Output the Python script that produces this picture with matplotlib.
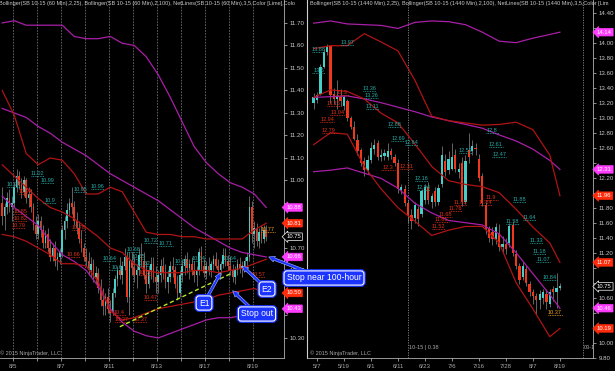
import matplotlib
matplotlib.use('Agg')
import matplotlib.pyplot as plt
import matplotlib.patheffects as pe
from matplotlib.patches import Rectangle

plt.rcParams['font.family'] = ['Liberation Sans', 'DejaVu Sans']

# ---------------- SB 10-15, 60 minute bars (8/4 .. 8/19) ----------------
h_open = [10.90, 10.84, 10.88, 10.92, 10.88, 10.90, 10.97, 11.02, 10.98, 10.95,
          11.00, 10.92, 10.94, 10.88, 10.80, 10.76, 10.82, 10.78, 10.72, 10.76,
          10.70, 10.66, 10.70, 10.64, 10.66, 10.68, 10.78, 10.82, 10.87, 10.90,
          10.88, 10.82, 10.79, 10.74, 10.70, 10.66, 10.64, 10.60, 10.63, 10.57,
          10.59, 10.52, 10.47, 10.44, 10.48, 10.43, 10.41, 10.50, 10.56, 10.60,
          10.58, 10.62, 10.66, 10.48, 10.64, 10.61, 10.58, 10.60, 10.67, 10.64,
          10.58, 10.54, 10.60, 10.63, 10.57, 10.55, 10.58, 10.62, 10.59, 10.55,
          10.57, 10.62, 10.60, 10.54, 10.50, 10.58, 10.62, 10.65, 10.61, 10.63,
          10.60, 10.58, 10.60, 10.68, 10.62, 10.59, 10.62, 10.60, 10.63, 10.65,
          10.62, 10.60, 10.63, 10.67, 10.64, 10.62, 10.60, 10.57, 10.60, 10.63,
          10.61, 10.62, 10.64, 10.66, 10.88, 10.76, 10.79, 10.73, 10.77, 10.74,
          10.78]
h_high = [10.97, 10.90, 10.95, 10.96, 10.93, 10.99, 11.05, 11.04, 11.01, 11.02,
          11.01, 10.97, 10.96, 10.90, 10.84, 10.85, 10.84, 10.80, 10.78, 10.79,
          10.74, 10.72, 10.73, 10.68, 10.70, 10.80, 10.84, 10.90, 10.92, 10.97,
          10.91, 10.86, 10.82, 10.78, 10.72, 10.70, 10.68, 10.66, 10.65, 10.62,
          10.61, 10.56, 10.52, 10.50, 10.52, 10.47, 10.52, 10.58, 10.62, 10.66,
          10.64, 10.70, 10.68, 10.68, 10.68, 10.66, 10.63, 10.70, 10.72, 10.68,
          10.64, 10.62, 10.66, 10.66, 10.62, 10.60, 10.65, 10.66, 10.63, 10.60,
          10.64, 10.66, 10.62, 10.58, 10.60, 10.64, 10.67, 10.68, 10.65, 10.66,
          10.64, 10.62, 10.70, 10.71, 10.65, 10.64, 10.66, 10.64, 10.67, 10.68,
          10.65, 10.64, 10.70, 10.70, 10.67, 10.66, 10.63, 10.62, 10.65, 10.66,
          10.64, 10.66, 10.68, 10.93, 10.91, 10.82, 10.81, 10.79, 10.80, 10.80,
          10.80]
h_low = [10.80, 10.78, 10.85, 10.86, 10.82, 10.88, 10.95, 10.96, 10.92, 10.93,
         10.90, 10.88, 10.86, 10.78, 10.74, 10.74, 10.75, 10.70, 10.70, 10.68,
         10.64, 10.64, 10.62, 10.60, 10.63, 10.66, 10.74, 10.79, 10.84, 10.85,
         10.80, 10.76, 10.72, 10.68, 10.64, 10.62, 10.58, 10.57, 10.55, 10.54,
         10.50, 10.44, 10.40, 10.40, 10.41, 10.37, 10.40, 10.48, 10.53, 10.56,
         10.54, 10.60, 10.46, 10.40, 10.58, 10.55, 10.52, 10.58, 10.62, 10.56,
         10.50, 10.52, 10.56, 10.55, 10.50, 10.50, 10.55, 10.56, 10.52, 10.50,
         10.55, 10.57, 10.52, 10.47, 10.48, 10.55, 10.58, 10.59, 10.56, 10.58,
         10.55, 10.53, 10.58, 10.60, 10.57, 10.56, 10.58, 10.57, 10.60, 10.61,
         10.58, 10.58, 10.61, 10.62, 10.60, 10.58, 10.55, 10.54, 10.58, 10.59,
         10.57, 10.60, 10.60, 10.64, 10.72, 10.70, 10.71, 10.70, 10.72, 10.72,
         10.73]
h_close = [10.84, 10.88, 10.92, 10.88, 10.90, 10.97, 11.02, 10.98, 10.95, 11.00,
           10.92, 10.94, 10.88, 10.80, 10.76, 10.82, 10.78, 10.72, 10.76, 10.70,
           10.66, 10.70, 10.64, 10.66, 10.68, 10.78, 10.82, 10.87, 10.90, 10.88,
           10.82, 10.79, 10.74, 10.70, 10.66, 10.64, 10.60, 10.63, 10.57, 10.59,
           10.52, 10.47, 10.44, 10.48, 10.43, 10.41, 10.50, 10.56, 10.60, 10.58,
           10.62, 10.66, 10.48, 10.64, 10.61, 10.58, 10.60, 10.67, 10.64, 10.58,
           10.54, 10.60, 10.63, 10.57, 10.55, 10.58, 10.62, 10.59, 10.55, 10.57,
           10.62, 10.60, 10.54, 10.50, 10.58, 10.62, 10.65, 10.61, 10.63, 10.60,
           10.58, 10.60, 10.68, 10.62, 10.59, 10.62, 10.60, 10.63, 10.65, 10.62,
           10.60, 10.63, 10.67, 10.64, 10.62, 10.60, 10.57, 10.60, 10.63, 10.61,
           10.62, 10.64, 10.66, 10.88, 10.76, 10.79, 10.73, 10.77, 10.74, 10.78,
           10.75]

# first bar of each session and its date
h_session_bar = [5, 15, 25, 35, 45, 55, 65, 75, 85, 95, 105]
h_session_day = ['8/5', '8/6', '8/7', '8/10', '8/11', '8/12', '8/13', '8/14', '8/17', '8/18', '8/19']

# Bollinger bands sampled every 5 bars
h_band_bar = [0, 5, 10, 15, 20, 25, 30, 35, 40, 45, 50, 55, 60, 65, 70, 75, 80, 85, 90, 95, 100, 105, 110]
h_bb100_up = [11.70, 11.71, 11.69, 11.69, 11.69, 11.69, 11.64, 11.63, 11.63, 11.64, 11.61, 11.60,
              11.55, 11.47, 11.37, 11.26, 11.15, 11.08, 11.03, 10.99, 10.97, 10.94, 10.88]
h_bb100_mid = [11.32, 11.30, 11.28, 11.24, 11.21, 11.17, 11.14, 11.11, 11.07, 11.03, 11.00, 10.97,
               10.94, 10.91, 10.87, 10.83, 10.79, 10.76, 10.73, 10.70, 10.68, 10.67, 10.66]
h_bb100_low = [10.93, 10.88, 10.84, 10.80, 10.73, 10.67, 10.64, 10.60, 10.53, 10.43, 10.37, 10.33,
               10.31, 10.30, 10.32, 10.34, 10.36, 10.38, 10.39, 10.39, 10.40, 10.41, 10.43]
h_bb25_up = [11.40, 11.29, 11.12, 11.07, 11.10, 11.09, 11.03, 10.94, 10.94, 10.97, 10.95, 10.86,
             10.77, 10.76, 10.76, 10.75, 10.75, 10.74, 10.74, 10.74, 10.74, 10.78, 10.81]
h_bb25_mid = [11.07, 11.02, 10.97, 10.92, 10.88, 10.86, 10.83, 10.79, 10.75, 10.70, 10.68, 10.63,
              10.60, 10.59, 10.59, 10.59, 10.60, 10.60, 10.59, 10.60, 10.61, 10.63, 10.65]
h_bb25_low = [10.76, 10.75, 10.73, 10.70, 10.67, 10.63, 10.63, 10.62, 10.55, 10.42, 10.38, 10.39,
              10.41, 10.43, 10.44, 10.45, 10.46, 10.47, 10.49, 10.50, 10.51, 10.52, 10.50]

# drawn trend line
h_trend_bar = [49, 96]
h_trend_px = [10.35, 10.59]

# NetLines price labels
h_lbl_bar = [2, 12, 16, 7, 5, 17, 5, 4, 30, 37, 29, 27, 42, 45, 54, 56, 57, 59, 46, 47, 55,
             72, 79, 92, 104, 59, 65.5, 52, 108]
h_lbl_text = ['10.97', '11.02', '10.99', '10.94', '10.85', '10.9', '10.82', '10.79', '10.95', '10.96',
              '10.78', '10.66', '10.64', '10.6', '10.65', '10.62', '10.58', '10.47', '10.4', '10.37',
              '10.37', '10.63', '10.64', '10.64', '10.57', '10.72', '10.71', '10.68', '10.77']
h_lbl_kind = ['u', 'u', 'u', 'd', 'd', 'u', 'd', 'd', 'u', 'u', 'd', 'd', 'u', 'u', 'u', 'u', 'd', 'd',
              'd', 'd', 'd', 'u', 'u', 'u', 'd', 'u', 'u', 'u', 'o']

h_tag_px = [10.88, 10.81, 10.75, 10.66, 10.50, 10.43]
h_tag_kind = ['m', 'r', 'k', 'm', 'r', 'm']

# ---------------- SB 10-15, daily bars (5/6 .. 8/19) ----------------
d_open = [13.19, 13.24, 13.32, 13.68, 13.87, 13.96, 13.32, 13.25, 13.28, 13.16,
          13.22, 13.00, 12.88, 12.70, 12.57, 12.42, 12.30, 12.44, 12.58, 12.66,
          12.48, 12.49, 12.47, 12.55, 12.48, 12.40, 12.04, 12.05, 11.86, 11.70,
          11.66, 11.78, 11.72, 11.90, 12.07, 11.88, 12.02, 11.88, 12.12, 12.42,
          12.30, 12.32, 12.50, 12.28, 12.40, 11.88, 12.57, 12.56, 12.60, 12.45,
          12.22, 11.84, 11.52, 11.48, 11.38, 11.46, 11.28, 11.32, 11.33, 11.57,
          11.18, 11.02, 10.88, 10.98, 10.78, 10.68, 10.62, 10.57, 10.60, 10.65,
          10.52, 10.72, 10.68, 10.73]
d_high = [13.33, 13.34, 13.72, 13.92, 13.98, 13.97, 13.40, 13.50, 13.38, 13.30,
          13.25, 13.02, 12.95, 12.78, 12.60, 12.48, 12.50, 12.68, 12.72, 12.70,
          12.58, 12.58, 12.66, 12.60, 12.52, 12.45, 12.12, 12.10, 11.90, 11.78,
          11.88, 11.82, 12.05, 12.12, 12.14, 12.00, 12.08, 12.12, 12.62, 12.52,
          12.55, 12.66, 12.58, 12.40, 12.48, 12.50, 12.80, 12.70, 12.66, 12.52,
          12.26, 11.88, 11.56, 11.54, 11.60, 11.58, 11.42, 11.40, 11.60, 11.62,
          11.24, 11.06, 11.08, 11.02, 10.82, 10.72, 10.66, 10.70, 10.72, 10.72,
          10.72, 10.76, 10.93, 10.80]
d_low = [13.12, 13.20, 13.30, 13.66, 13.84, 13.20, 13.18, 13.12, 13.15, 13.10,
         12.96, 12.85, 12.70, 12.50, 12.35, 12.22, 12.25, 12.40, 12.52, 12.44,
         12.42, 12.44, 12.43, 12.45, 12.36, 12.00, 11.98, 11.82, 11.60, 11.52,
         11.60, 11.55, 11.68, 11.85, 11.85, 11.80, 11.82, 11.84, 12.08, 12.22,
         12.25, 12.30, 12.28, 12.20, 11.82, 11.85, 12.40, 12.50, 12.50, 12.15,
         11.82, 11.45, 11.34, 11.30, 11.32, 11.22, 11.20, 11.18, 11.28, 11.15,
         10.98, 10.78, 10.84, 10.75, 10.62, 10.52, 10.38, 10.45, 10.52, 10.45,
         10.48, 10.55, 10.46, 10.70]
d_close = [13.27, 13.30, 13.68, 13.88, 13.96, 13.30, 13.25, 13.28, 13.22, 13.27,
           13.00, 12.88, 12.72, 12.55, 12.40, 12.30, 12.44, 12.59, 12.63, 12.48,
           12.50, 12.53, 12.55, 12.50, 12.40, 12.05, 12.07, 11.86, 11.70, 11.62,
           11.83, 11.65, 12.02, 12.07, 11.90, 11.96, 11.88, 12.06, 12.50, 12.28,
           12.45, 12.48, 12.32, 12.32, 11.88, 12.42, 12.48, 12.62, 12.58, 12.20,
           11.86, 11.52, 11.40, 11.38, 11.54, 11.28, 11.32, 11.25, 11.55, 11.20,
           11.02, 10.84, 11.02, 10.80, 10.68, 10.62, 10.57, 10.65, 10.67, 10.54,
           10.68, 10.68, 10.73, 10.75]

d_tick_bar = [1, 9, 17, 25, 33, 41, 49, 57, 65, 73]
d_tick_day = ['5/7', '5/19', '6/1', '6/11', '6/23', '7/6', '7/16', '7/28', '8/7', '8/19']

d_band_bar = [0, 5, 10, 15, 20, 25, 30, 35, 40, 45, 50, 55, 60, 65, 70, 73]
d_bb100_up = [14.26, 14.29, 14.25, 14.24, 14.23, 14.19, 14.27, 14.29, 14.28, 14.24, 14.14, 14.02,
              14.00, 14.06, 14.11, 14.14]
d_bb100_mid = [13.27, 13.28, 13.29, 13.25, 13.20, 13.14, 13.08, 13.01, 12.96, 12.91, 12.86, 12.77,
               12.69, 12.58, 12.43, 12.31]
d_bb100_low = [12.28, 12.30, 12.33, 12.26, 12.19, 12.06, 11.86, 11.73, 11.63, 11.60, 11.57, 11.45,
               11.20, 10.92, 10.64, 10.46]
d_bb25_up = [13.92, 13.96, 13.96, 14.12, 14.01, 13.89, 13.50, 13.02, 12.96, 12.93, 12.90, 12.91,
             12.94, 12.84, 12.50, 11.96]
d_bb25_mid = [13.27, 13.37, 13.35, 13.25, 13.06, 12.93, 12.65, 12.35, 12.16, 12.11, 12.08, 12.00,
              11.78, 11.54, 11.33, 11.07]
d_bb25_low = [12.64, 12.80, 12.78, 12.35, 12.05, 11.80, 11.62, 11.43, 11.50, 11.55, 11.55, 11.33,
              10.80, 10.45, 10.08, 10.19]

d_lbl_bar = [8, -0.5, -0.5, 14.5, 15, 15.5, 6.5, 4, 5, 2, 2.5, 22, 23, 27, 20, 25.5, 30, 30.5,
             41.5, 40, 37, 36, 35, 43, 51, 52, 53, 50.5, 49, 59, 62, 57, 64, 65, 66, 68, 69.5]
d_lbl_text = ['13.97', '13.88', '13.6', '13.36', '13.26', '13.11', '13.3', '13.15', '13.04', '12.94',
              '12.79', '12.88', '12.69', '12.64', '12.3', '12.31', '12.16', '12.04', '11.83', '11.76',
              '11.68', '11.61', '11.52', '12.53', '12.8', '12.61', '12.47', '11.9', '11.84', '11.88',
              '11.64', '11.58', '11.33', '11.18', '11.07', '10.84', '10.37']
d_lbl_kind = ['u', 'u', 'u', 'u', 'u', 'u', 'd', 'd', 'd', 'd', 'd', 'u', 'u', 'u', 'd', 'd', 'u', 'u',
              'd', 'd', 'd', 'd', 'd', 'u', 'u', 'u', 'u', 'd', 'd', 'u', 'u', 'u', 'u', 'u', 'u', 'u', 'o']

d_tag_px = [14.14, 12.31, 11.96, 11.07, 10.75, 10.46, 10.19]
d_tag_kind = ['m', 'm', 'r', 'r', 'k', 'm', 'r']

# ---------------- styling ----------------
UP = '#45cfc8'
DN = '#f0381c'
WICK = '#8a8a8a'
RED_BB = '#b01414'
MAG_BB = '#a81fa8'
LBL = {'u': '#27aaa6', 'd': '#e0301a', 'o': '#f0a020'}
TAG = {'m': '#ff3cff', 'r': '#ff2c0c', 'k': '#000000'}
GRAY = '#c8c8c8'

W, H = 615, 371
fig = plt.figure(figsize=(W / 100, H / 100), dpi=100, facecolor='black')
axL = fig.add_axes([0, 13 / H, 284 / W, 358 / H])
axR = fig.add_axes([307 / W, 13 / H, 286 / W, 358 / H])
axL.set_zorder(2)
axR.set_zorder(1)


def draw_candles(ax, o, h, l, c, width):
    xs = list(range(len(o)))
    ax.vlines(xs, l, h, color=WICK, lw=0.5, zorder=3)
    for x, oo, cc in zip(xs, o, c):
        lo = min(oo, cc)
        ht = max(abs(cc - oo), 0.004)
        ax.add_patch(Rectangle((x - width / 2, lo), width, ht,
                               fc=UP if cc >= oo else DN, ec='none', zorder=4))


def draw_labels(ax, bars, texts, kinds, span, fs):
    for b, t, k in zip(bars, texts, kinds):
        p = float(t)
        ax.plot([b, b + span], [p, p], color=LBL[k], lw=0.6, ls=(0, (1, 1)), zorder=6)
        ax.text(b + span / 2, p, t, color=LBL[k], fontsize=fs, ha='center', va='bottom', zorder=6)


def price_tags(ax, prices, kinds, xpos):
    for p, k in zip(prices, kinds):
        ax.annotate('%.2f' % p, xy=(xpos, p), xycoords=ax.get_yaxis_transform(),
                    ha='left', va='center', fontsize=4.2, color='white',
                    bbox=dict(boxstyle='larrow,pad=0.22', fc=TAG[k],
                              ec='white' if k == 'k' else TAG[k], lw=0.5),
                    annotation_clip=False, zorder=10)


def style_axis(ax, ticks, tags, gap):
    ax.set_facecolor('black')
    ax.yaxis.tick_right()
    ax.set_yticks(ticks)
    # a tick label that sits under a price tag is hidden by it
    ax.set_yticklabels(['' if any(abs(t - g) < gap for g in tags) else '%.2f' % t for t in ticks])
    ax.tick_params(axis='y', colors=GRAY, labelsize=4.4, length=2.5, width=0.5, pad=1.5,
                   labelcolor=GRAY)
    ax.tick_params(axis='x', colors=GRAY, labelsize=4.4, length=2.5, width=0.5, pad=1.5,
                   labelcolor='#a8a8a8')
    for s in ['top', 'left']:
        ax.spines[s].set_visible(False)
    for s in ['right', 'bottom']:
        ax.spines[s].set_color('#b0b0b0')
        ax.spines[s].set_linewidth(0.6)


# ---------------- left: 60 minute ----------------
style_axis(axL, [10.3 + 0.1 * k for k in range(15)], h_tag_px, 0.032)
axL.set_xlim(-0.92, 117.4)
axL.set_ylim(10.211, 11.802)
for b in h_session_bar:
    axL.axvline(b - 0.5, color='#6c6c78', lw=0.6, ls=(0, (2, 1.5)), zorder=1)
axL.set_xticks([b - 0.5 for b in h_session_bar])
axL.set_xticklabels([d if k % 2 == 0 else '' for k, d in enumerate(h_session_day)])

draw_candles(axL, h_open, h_high, h_low, h_close, 0.7)
for vals, col in [(h_bb100_up, MAG_BB), (h_bb100_mid, MAG_BB), (h_bb100_low, MAG_BB),
                  (h_bb25_up, RED_BB), (h_bb25_mid, RED_BB), (h_bb25_low, RED_BB)]:
    axL.plot(h_band_bar, vals, color=col, lw=0.9, zorder=5)
axL.plot(h_trend_bar, h_trend_px, color='#b4e628', lw=1.0, ls=(0, (3, 2)), zorder=7)
draw_labels(axL, h_lbl_bar, h_lbl_text, h_lbl_kind, 5.5, 4.0)
price_tags(axL, h_tag_px, h_tag_kind, 1.008)

axL.text(-0.005, 0.998, 'Bollinger(SB 10-15 (60 Min),2,25), Bollinger(SB 10-15 (60 Min),2,100), '
         'NetLines(SB 10-15 (60 Min),3,5,Color [Lime],Colo', transform=axL.transAxes,
         ha='left', va='top', fontsize=4.0, color=GRAY, zorder=8)
axL.text(0.0, 0.006, '\u00a9 2015 NinjaTrader, LLC', transform=axL.transAxes,
         ha='left', va='bottom', fontsize=4.0, color='#a8a8a8', zorder=8)

# ---------------- right: daily ----------------
style_axis(axR, [9.8 + 0.2 * k for k in range(24)], d_tag_px, 0.095)
axR.spines['left'].set_visible(True)
axR.spines['left'].set_color('#d0d0d0')
axR.spines['left'].set_linewidth(0.8)
axR.set_xlim(-1.96, 82.8)
axR.set_ylim(9.796, 14.569)
axR.set_xticks(d_tick_bar)
axR.set_xticklabels(d_tick_day)
for xv in [27.97, 79.8]:
    axR.axvline(xv, color='#8a8a8a', lw=0.6, ls=(0, (1.5, 1.5)), zorder=1)

draw_candles(axR, d_open, d_high, d_low, d_close, 0.68)
for vals, col in [(d_bb100_up, MAG_BB), (d_bb100_mid, MAG_BB), (d_bb100_low, MAG_BB),
                  (d_bb25_up, RED_BB), (d_bb25_mid, RED_BB), (d_bb25_low, RED_BB)]:
    axR.plot(d_band_bar, vals, color=col, lw=0.9, zorder=5)
draw_labels(axR, d_lbl_bar, d_lbl_text, d_lbl_kind, 4.0, 4.0)
price_tags(axR, d_tag_px, d_tag_kind, 1.014)

axR.text(0.01, 0.998, 'Bollinger(SB 10-15 (1440 Min),2,25), Bollinger(SB 10-15 (1440 Min),2,100), '
         'NetLines(SB 10-15 (1440 Min),3,5,Color [Lim', transform=axR.transAxes,
         ha='left', va='top', fontsize=4.0, color=GRAY, zorder=8)
axR.text(0.01, 0.006, '\u00a9 2015 NinjaTrader, LLC', transform=axR.transAxes,
         ha='left', va='bottom', fontsize=4.0, color='#a8a8a8', zorder=8)
axR.text(28.3, 0.028, '10-15 | 0.38', transform=axR.get_xaxis_transform(),
         ha='left', va='center', fontsize=4.0, color='#a8a8a8')
axR.text(80.1, 0.028, '03-1', transform=axR.get_xaxis_transform(),
         ha='left', va='center', fontsize=4.0, color='#a8a8a8')

# ---------------- call-outs ----------------
callouts = [('E1', 91, 10.59, (204, 68)),
            ('E2', 100, 10.62, (267, 82)),
            ('Stop out', 96, 10.51, (257, 57)),
            ('Stop near 100-hour', 111, 10.66, (324, 93))]
BLUE = '#1c34ff'
for txt, bx, py, pos in callouts:
    ann = axL.annotate(txt, xy=(bx, py), xycoords='data', xytext=pos, textcoords='figure pixels',
                       ha='center', va='center', fontsize=6.2, color='white',
                       bbox=dict(boxstyle='round,pad=0.3,rounding_size=0.35', fc=BLUE,
                                 ec='white', lw=0.8),
                       arrowprops=dict(arrowstyle='simple,head_length=0.7,head_width=0.7,tail_width=0.3',
                                       fc=BLUE, ec='#a8b8ff', lw=0.4, shrinkA=0, shrinkB=0),
                       annotation_clip=False, zorder=12)
    ann.get_bbox_patch().set_path_effects([pe.withStroke(linewidth=2.6, foreground=BLUE)])

fig.savefig('out.png', dpi=100, facecolor='black')
